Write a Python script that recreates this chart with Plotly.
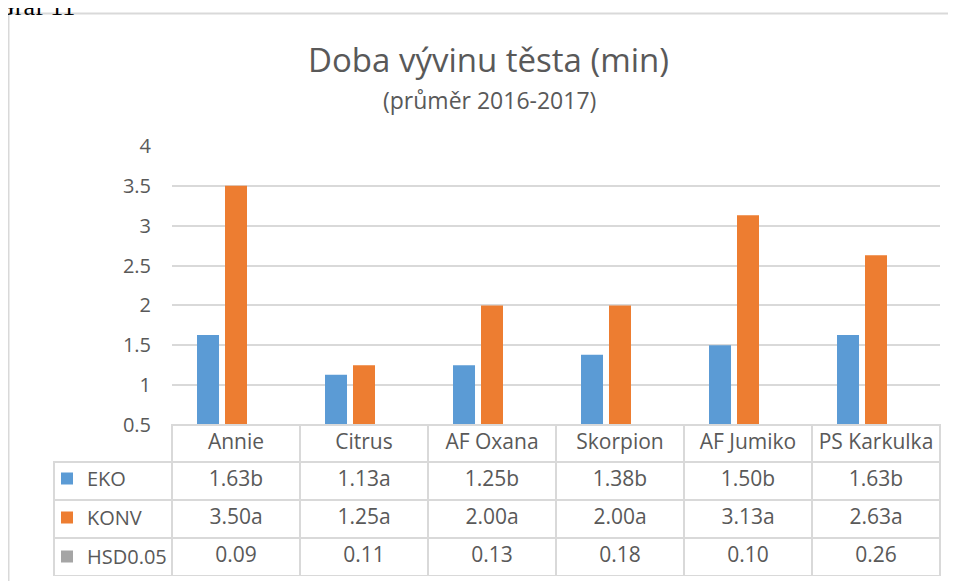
import plotly.graph_objects as go

W, H = 956, 581
OFF = 8  # page body margin in the browser

categories = ["Annie", "Citrus", "AF Oxana", "Skorpion", "AF Jumiko", "PS Karkulka"]
eko = [1.63, 1.13, 1.25, 1.38, 1.50, 1.63]
konv = [3.50, 1.25, 2.00, 2.00, 3.13, 2.63]
hsd = [0.09, 0.11, 0.13, 0.18, 0.10, 0.26]
eko_labels = ["1.63b", "1.13a", "1.25b", "1.38b", "1.50b", "1.63b"]
konv_labels = ["3.50a", "1.25a", "2.00a", "2.00a", "3.13a", "2.63a"]
hsd_labels = ["0.09", "0.11", "0.13", "0.18", "0.10", "0.26"]
series_names = ["EKO", "KONV", "HSD0.05"]
colors = ["#5B9BD5", "#ED7D31", "#A5A5A5"]
y_ticks = [0.5, 1, 1.5, 2, 2.5, 3, 3.5, 4]

FONT = "Open Sans"
TXT = "#595959"
GRID = "#D9D9D9"
CLEAR = "rgba(0,0,0,0)"

def px_x(p):
    return (p - OFF) / W

def px_y(p):
    return 1 - (p - OFF) / H

fig = go.Figure()
for i, (name, vals, col) in enumerate(zip(series_names, [eko, konv, hsd], colors)):
    fig.add_trace(go.Bar(x=categories, y=vals, name=name, legendgroup=f"g{i}",
                         marker=dict(color=col, line=dict(width=0)),
                         hoverinfo="x+y+name"))

# data table (legend keys occupy the left column)
n = len(categories)
header_vals = [""] + [c.replace(" ", "\u00a0") for c in categories]
cell_values = [["", "", ""]] + [[e, k, h] for e, k, h in zip(eko_labels, konv_labels, hsd_labels)]
fig.add_trace(go.Table(
    domain=dict(x=[px_x(54), px_x(940)], y=[px_y(576), px_y(425)]),
    columnwidth=[118] + [128] * n,
    header=dict(values=header_vals,
                line=dict(color=[CLEAR] + [GRID] * n, width=2),
                fill=dict(color=[CLEAR] + ["white"] * n),
                align="center",
                font=dict(family=FONT, size=21, color=TXT),
                height=37),
    cells=dict(values=cell_values,
               line=dict(color=GRID, width=2),
               fill=dict(color="white"),
               align=["left"] + ["center"] * n,
               font=dict(family=FONT, size=21, color=TXT),
               height=38),
))

fig.update_layout(
    width=W, height=H,
    margin=dict(l=0, r=0, t=0, b=0, autoexpand=False),
    paper_bgcolor="white", plot_bgcolor="white",
    barmode="group", bargap=0.344, bargroupgap=0.214,
    font=dict(family=FONT, color=TXT),
    showlegend=True,
    legend=dict(x=px_x(47), y=px_y(459), xanchor="left", yanchor="top",
                font=dict(family=FONT, size=20, color=TXT), tracegroupgap=10,
                bgcolor=CLEAR, borderwidth=0, traceorder="grouped"),
    xaxis=dict(domain=[px_x(172), px_x(940)], showticklabels=False, showgrid=False,
               zeroline=False, showline=False, ticks=""),
    yaxis=dict(domain=[px_y(425), px_y(146)], range=[0.5, 4], tickvals=y_ticks,
               showgrid=True, gridcolor=GRID, gridwidth=1.5, zeroline=False, showline=False,
               tickfont=dict(family=FONT, size=20, color=TXT), ticklabelstandoff=20),
    annotations=[
        dict(text="Doba vývinu těsta (min)", x=px_x(489), y=px_y(60), xref="paper", yref="paper",
             xanchor="center", yanchor="middle", showarrow=False,
             font=dict(family=FONT, size=33, color=TXT)),
        dict(text="(průměr 2016-2017)", x=px_x(490), y=px_y(100), xref="paper", yref="paper",
             xanchor="center", yanchor="middle", showarrow=False,
             font=dict(family=FONT, size=23, color=TXT)),
        dict(text="Graf 11", x=px_x(-6), y=px_y(23), xref="paper", yref="paper",
             xanchor="left", yanchor="bottom", showarrow=False,
             font=dict(family="Liberation Serif", size=26, color="black")),
    ],
    shapes=[dict(type="rect", xref="paper", yref="paper", x0=px_x(8.5), x1=1,
                 y0=0, y1=px_y(13.5), line=dict(color=GRID, width=2), fillcolor=CLEAR,
                 layer="below")],
)

fig.write_html("out.html")
